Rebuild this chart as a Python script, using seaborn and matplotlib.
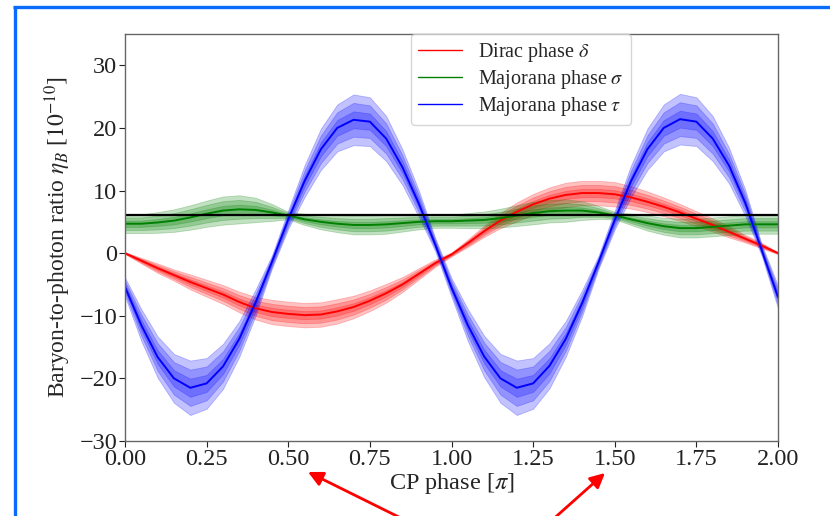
import numpy as np
import pandas as pd
import matplotlib
matplotlib.use("Agg")
import matplotlib.pyplot as plt
import seaborn as sns
from matplotlib.lines import Line2D
from matplotlib.patches import FancyArrowPatch

# ---------------- data ----------------
phase = [0.00, 0.05, 0.10, 0.15, 0.20, 0.25, 0.30, 0.35, 0.40, 0.45,
         0.50, 0.55, 0.60, 0.65, 0.70, 0.75, 0.80, 0.85, 0.90, 0.95,
         1.00, 1.05, 1.10, 1.15, 1.20, 1.25, 1.30, 1.35, 1.40, 1.45,
         1.50, 1.55, 1.60, 1.65, 1.70, 1.75, 1.80, 1.85, 1.90, 1.95, 2.00]

dirac_delta = [0.0, -1.2, -2.4, -3.5, -4.6, -5.6, -6.6, -7.8, -8.8, -9.4,
               -9.7, -9.9, -9.8, -9.3, -8.6, -7.6, -6.4, -5.0, -3.3, -1.6,
               -0.2, 1.6, 3.5, 5.2, 6.6, 7.8, 8.7, 9.3, 9.6, 9.6,
               9.4, 8.9, 8.2, 7.4, 6.5, 5.5, 4.5, 3.4, 2.3, 1.2, 0.0]
dirac_delta_err = [0.05, 0.15, 0.25, 0.3, 0.4, 0.45, 0.5, 0.55, 0.6, 0.65,
                   0.65, 0.65, 0.65, 0.65, 0.6, 0.55, 0.5, 0.4, 0.3, 0.2,
                   0.1, 0.2, 0.3, 0.4, 0.5, 0.55, 0.6, 0.65, 0.65, 0.65,
                   0.65, 0.6, 0.55, 0.5, 0.45, 0.4, 0.35, 0.3, 0.2, 0.15, 0.05]

majorana_sigma = [4.7, 4.7, 4.9, 5.2, 5.7, 6.3, 6.8, 7.0, 6.9, 6.5,
                  6.0, 5.4, 5.0, 4.7, 4.5, 4.5, 4.6, 4.8, 5.0, 5.1,
                  5.1, 5.2, 5.3, 5.6, 6.0, 6.4, 6.7, 6.8, 6.8, 6.5,
                  6.0, 5.4, 4.8, 4.3, 4.0, 4.0, 4.2, 4.4, 4.6, 4.6, 4.6]
majorana_sigma_err = [0.5, 0.5, 0.55, 0.6, 0.65, 0.7, 0.75, 0.75, 0.65, 0.45,
                      0.2, 0.3, 0.4, 0.45, 0.5, 0.5, 0.5, 0.45, 0.4, 0.35,
                      0.35, 0.4, 0.45, 0.5, 0.55, 0.6, 0.6, 0.6, 0.5, 0.35,
                      0.2, 0.3, 0.4, 0.45, 0.5, 0.5, 0.5, 0.5, 0.5, 0.5, 0.5]

majorana_tau = [-5.4, -11.5, -16.6, -20.0, -21.5, -20.8, -18.1, -13.7, -7.9, -1.4,
                5.4, 11.5, 16.6, 20.0, 21.3, 21.0, 18.3, 13.7, 7.9, 1.4,
                -5.5, -11.5, -16.5, -20.0, -21.5, -20.8, -18.0, -13.7, -8.0, -1.5,
                5.3, 11.5, 16.6, 20.0, 21.4, 21.0, 18.3, 14.0, 8.0, 0.5, -7.0]
majorana_tau_err = [0.5, 0.85, 1.1, 1.3, 1.45, 1.35, 1.2, 0.95, 0.7, 0.35,
                    0.5, 0.85, 1.1, 1.25, 1.35, 1.3, 1.2, 0.95, 0.7, 0.35,
                    0.5, 0.85, 1.1, 1.3, 1.45, 1.35, 1.2, 0.95, 0.7, 0.35,
                    0.5, 0.85, 1.1, 1.25, 1.35, 1.3, 1.2, 0.95, 0.7, 0.3, 0.6]

observed_eta = 6.1

series_labels = [r"Dirac phase $\delta$", r"Majorana phase $\sigma$", r"Majorana phase $\tau$"]
series_colors = ["red", "green", "blue"]

x_ticks = [0.00, 0.25, 0.50, 0.75, 1.00, 1.25, 1.50, 1.75, 2.00]
y_ticks = [-30, -20, -10, 0, 10, 20, 30]

# ---------------- style ----------------
sns.set_theme(style="ticks")
plt.rcParams["font.family"] = ["Liberation Serif", "DejaVu Serif"]
plt.rcParams["mathtext.fontset"] = "stix"

fig = plt.figure(figsize=(8.30, 5.16), dpi=100)
ax = fig.add_axes([125 / 830, 1 - 441 / 516, 653 / 830, 407 / 516])

centers = [dirac_delta, majorana_sigma, majorana_tau]
errors = [dirac_delta_err, majorana_sigma_err, majorana_tau_err]
xs = np.array(phase)

for c, e, lab, col in zip(centers, errors, series_labels, series_colors):
    c = np.array(c)
    e = np.array(e)
    for k in (3, 2, 1):
        ax.fill_between(xs, c - k * e, c + k * e, color=col, alpha=0.24,
                        linewidth=0.6, edgecolor=col)
    df = pd.DataFrame({"phase": xs, "eta": c})
    sns.lineplot(data=df, x="phase", y="eta", color=col, linewidth=1.4,
                 label=lab, ax=ax)
    if col == "green":
        ax.axhline(observed_eta, color="black", linewidth=1.6, zorder=2.5)

ax.set_xlim(0, 2)
ax.set_ylim(-30, 35)
ax.set_xticks(x_ticks)
ax.set_xticklabels([f"{t:.2f}" for t in x_ticks])
ax.set_yticks(y_ticks)
ax.tick_params(labelsize=17.5, length=4, width=0.8, colors="#222222", pad=1.5)
for s in ax.spines.values():
    s.set_color("#666666")
    s.set_linewidth(1.0)

ax.set_xlabel(r"CP phase [$\pi$]", fontsize=17.5, labelpad=1)
ax.set_ylabel(r"Baryon-to-photon ratio $\eta_B$ [$10^{-10}$]", fontsize=17, labelpad=5)

leg = ax.legend(loc="upper left", bbox_to_anchor=(0.438, 1.0), borderaxespad=0,
                fontsize=14.5, frameon=True, fancybox=True, handlelength=2.2,
                labelspacing=0.2, borderpad=0.35)
for h in leg.get_lines():
    h.set_linewidth(1.0)

# ---------------- screenshot decorations ----------------
frame_col = "#0a6cff"
W, H = 830, 516
fig.add_artist(Line2D([14.5 / W, 14.5 / W], [0, 1 - 6 / H], transform=fig.transFigure,
                      color=frame_col, linewidth=2.4, solid_capstyle="butt"))
fig.add_artist(Line2D([13 / W, 1.0], [1 - 6.5 / H, 1 - 6.5 / H], transform=fig.transFigure,
                      color=frame_col, linewidth=2.4, solid_capstyle="butt"))

for tail, tip in [((425, 530), (308, 472)), ((541, 530), (605, 473))]:
    arr = FancyArrowPatch((tail[0] / W, 1 - tail[1] / H), (tip[0] / W, 1 - tip[1] / H),
                          transform=fig.transFigure, arrowstyle="-|>", mutation_scale=22,
                          color="red", linewidth=2.0, shrinkA=0, shrinkB=0)
    fig.add_artist(arr)

fig.savefig("out.png", dpi=100)
